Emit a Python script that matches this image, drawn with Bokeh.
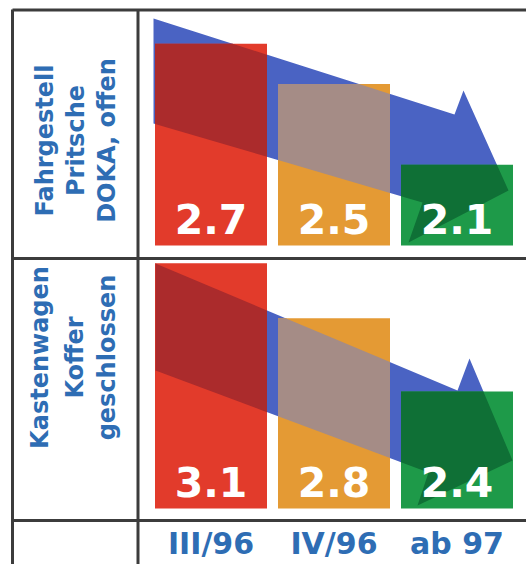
import math
from bokeh.plotting import figure
from bokeh.models import Range1d
from bokeh.core.properties import value
from bokeh.embed import file_html
from bokeh.resources import INLINE

# ---------------- data ----------------
categories = ["III/96", "IV/96", "ab 97"]
row_labels_top = ["Fahrgestell", "Pritsche", "DOKA, offen"]
row_labels_bottom = ["Kastenwagen", "Koffer", "geschlossen"]
values_top = [2.7, 2.5, 2.1]
values_bottom = [3.1, 2.8, 2.4]

# ---------------- style ----------------
bar_colors = ["#e23b2b", "#e49a34", "#1e9a49"]
overlap_colors = ["#ab2b2c", "#a58c86", "#0f7036"]
arrow_color = "#4a63c3"
text_blue = "#2e6db4"
rule_color = "#3c3c3c"
FONT = "DejaVu Sans"
BL = 0.35   # baseline correction (em) for svg text placement

W, H = 526, 564
COL0, STEP = 210.5, 123.0        # screen x of first column centre, column spacing
BAR_W = 112.0 / STEP

# panel scales: (baseline value, baseline screen y, px per unit)
PANELS = {
    "top": dict(base=1.70, base_px=245.0, scale=201.8),
    "bot": dict(base=1.76, base_px=508.0, scale=183.0),
}

# decorative trend arrows (screen px outline)
ARROWS = {
    "top": [(153, 18), (454, 114), (463, 90), (508, 190), (408, 242), (422, 202), (153, 123)],
    "bot": [(155, 263), (457, 390), (469, 358), (512, 460), (417, 505), (428, 472), (155, 370)],
}


def to_data(pt, panel):
    s = PANELS[panel]
    return ((pt[0] - COL0) / STEP, s["base"] + (s["base_px"] - pt[1]) / s["scale"])


def clip(poly, xmin, xmax, ymin, ymax):
    def edge(pts, inside, inter):
        out = []
        for i in range(len(pts)):
            cur, prev = pts[i], pts[i - 1]
            if inside(cur):
                if not inside(prev):
                    out.append(inter(prev, cur))
                out.append(cur)
            elif inside(prev):
                out.append(inter(prev, cur))
        return out

    def ix(p, q, x):
        t = (x - p[0]) / (q[0] - p[0])
        return (x, p[1] + t * (q[1] - p[1]))

    def iy(p, q, y):
        t = (y - p[1]) / (q[1] - p[1])
        return (p[0] + t * (q[0] - p[0]), y)

    pts = list(poly)
    for inside, inter in [
        (lambda p: p[0] >= xmin, lambda p, q: ix(p, q, xmin)),
        (lambda p: p[0] <= xmax, lambda p, q: ix(p, q, xmax)),
        (lambda p: p[1] >= ymin, lambda p, q: iy(p, q, ymin)),
        (lambda p: p[1] <= ymax, lambda p, q: iy(p, q, ymax)),
    ]:
        if not pts:
            break
        pts = edge(pts, inside, inter)
    return pts


def yrange(panel):
    s = PANELS[panel]
    return Range1d(s["base"] - (H - s["base_px"]) / s["scale"], s["base"] + s["base_px"] / s["scale"])


p = figure(width=W, height=H, output_backend="svg", toolbar_location=None,
           x_range=Range1d(-COL0 / STEP, (W - COL0) / STEP), y_range=Range1d(H, 0),
           x_axis_location=None, y_axis_location=None, min_border=0,
           outline_line_color=None, background_fill_color="white", border_fill_color="white")
p.grid.visible = False
p.extra_x_ranges = {"px": Range1d(0, W)}
p.extra_y_ranges = {"top": yrange("top"), "bot": yrange("bot")}

xs = list(range(len(categories)))

VAL_FS = 41
for panel, vals in (("top", values_top), ("bot", values_bottom)):
    base = PANELS[panel]["base"]
    arrow = [to_data(pt, panel) for pt in ARROWS[panel]]
    p.patch([a[0] for a in arrow], [a[1] for a in arrow], y_range_name=panel,
            fill_color=arrow_color, line_color=None)
    p.vbar(x=xs, top=vals, bottom=base, width=BAR_W, y_range_name=panel,
           fill_color=bar_colors, line_color=None)
    oxs, oys, ocs = [], [], []
    for i, v in enumerate(vals):
        poly = clip(arrow, i - BAR_W / 2, i + BAR_W / 2, base, v)
        if len(poly) >= 3:
            oxs.append([q[0] for q in poly])
            oys.append([q[1] for q in poly])
            ocs.append(overlap_colors[i])
    p.patches(oxs, oys, fill_color=ocs, line_color=None, y_range_name=panel)
    p.text(x=xs, y=[base] * len(vals), text=[f"{v:.1f}" for v in vals],
           y_range_name=panel, y_offset=-12 - BL * VAL_FS, text_align="center",
           text_baseline="alphabetic", text_color="white", text_font=value(FONT),
           text_font_style="bold", text_font_size=f"{VAL_FS}px")

# row labels (rotated)
ROW_FS = 24
sh = BL * ROW_FS
p.text(x=[53 - sh, 84 - sh, 114.5 - sh], y=[140] * 3, text=row_labels_top, x_range_name="px",
       angle=math.pi / 2, text_align="center", text_baseline="alphabetic",
       text_color=text_blue, text_font=value(FONT), text_font_style="bold",
       text_font_size=f"{ROW_FS}px")
p.text(x=[48 - sh, 83 - sh, 115 - sh], y=[357] * 3, text=row_labels_bottom, x_range_name="px",
       angle=math.pi / 2, text_align="center", text_baseline="alphabetic",
       text_color=text_blue, text_font=value(FONT), text_font_style="bold",
       text_font_size=f"{ROW_FS}px")

# category labels
CAT_FS = 30
p.text(x=xs, y=[553 - BL * CAT_FS] * len(xs), text=categories, text_align="center",
       text_baseline="alphabetic", text_color=text_blue, text_font=value(FONT),
       text_font_style="bold", text_font_size=f"{CAT_FS}px")

# table rules
p.segment(x0=[12, 12, 12, 12, 137.5], y0=[9.5, 258, 520, 9, 9],
          x1=[W, W, W, 12, 137.5], y1=[9.5, 258, 520, H, H],
          x_range_name="px", line_color=rule_color, line_width=3)

open("out.html", "w").write(file_html(p, INLINE))
